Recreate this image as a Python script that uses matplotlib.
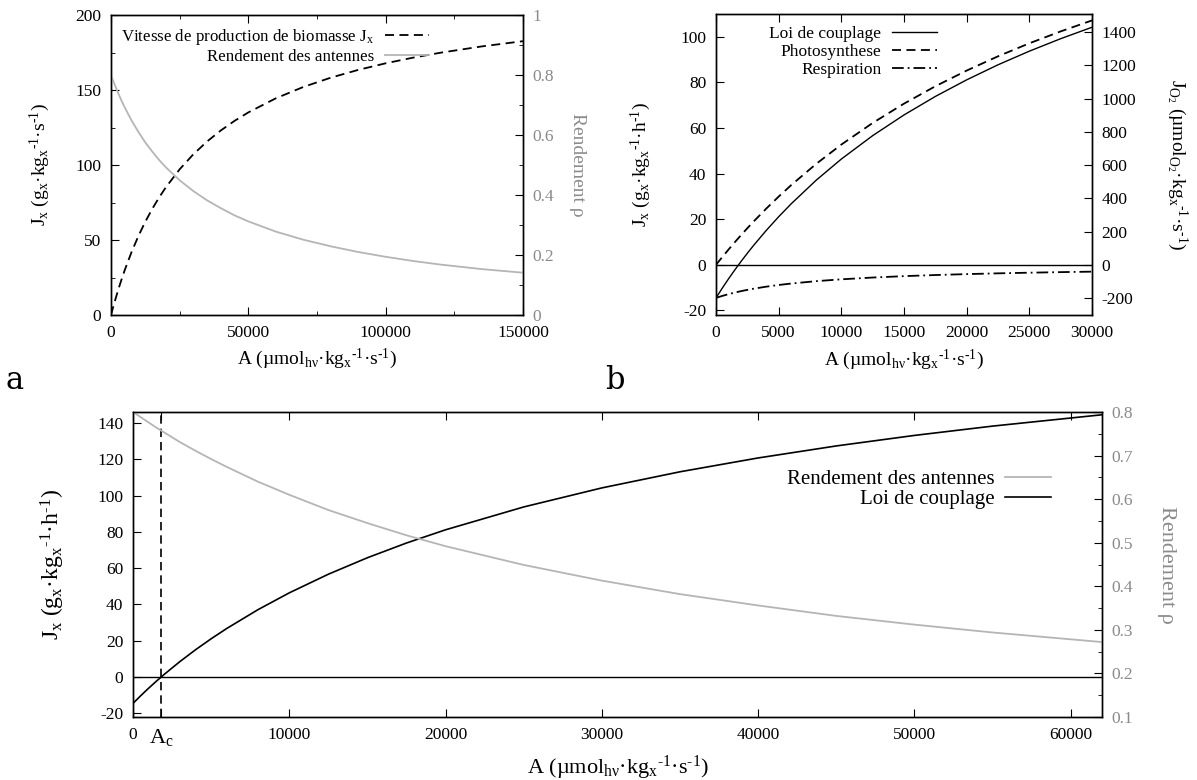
import numpy as np
import matplotlib
matplotlib.use("Agg")
import matplotlib.pyplot as plt
from matplotlib.ticker import MultipleLocator

plt.rcParams['font.family'] = ['Liberation Serif', 'DejaVu Serif']
plt.rcParams['mathtext.fontset'] = 'custom'
plt.rcParams['mathtext.rm'] = 'Liberation Serif'
plt.rcParams['mathtext.it'] = 'Liberation Serif:italic'
plt.rcParams['axes.unicode_minus'] = False
plt.rcParams['font.size'] = 12

GRAY_LINE = '#b5b5b5'
GRAY_TEXT = '#8a8a8a'

# ---- panel a : photosynthese and antenna yield up to A = 150000
A_a = [0, 1000, 2500, 4000, 5000, 7500, 10000, 12500, 15000, 17500, 20000, 25000, 30000,
       35000, 40000, 45000, 50000, 60000, 70000, 80000, 90000, 100000, 110000, 120000,
       135000, 150000]
Jx_a = [0, 6.71, 16.05, 24.61, 29.93, 42.06, 52.74, 62.22, 70.69, 78.31, 85.19, 97.15, 107.18,
        115.71, 123.06, 129.45, 135.06, 144.46, 152.01, 158.21, 163.40, 167.80, 171.58, 174.87,
        179.06, 182.55]
rho_a = [0.800, 0.776, 0.742, 0.711, 0.692, 0.648, 0.610, 0.575, 0.545, 0.517, 0.492, 0.449, 0.413,
         0.382, 0.356, 0.332, 0.312, 0.278, 0.251, 0.229, 0.210, 0.194, 0.180, 0.168,
         0.153, 0.141]

# ---- panel b : coupling law, photosynthesis, respiration up to 30000
A_b = [0, 500, 1000, 1500, 2000, 2500, 3000, 4000, 5000, 6000, 8000, 10000, 12500, 15000,
       17500, 20000, 22500, 25000, 27500, 30000]
photo_b = [0, 3.41, 6.71, 9.92, 13.03, 16.05, 18.99, 24.61, 29.93, 34.97, 44.30, 52.74, 62.22,
           70.69, 78.31, 85.19, 91.45, 97.15, 102.37, 107.18]
resp_b = [-14.50, -13.63, -12.85, -12.16, -11.54, -10.98, -10.47, -9.58, -8.84, -8.20, -7.16,
          -6.35, -5.57, -4.96, -4.47, -4.07, -3.73, -3.45, -3.20, -2.99]
coupl_b = [-14.50, -10.22, -6.14, -2.24, 1.49, 5.07, 8.52, 15.03, 21.09, 26.77, 37.14, 46.39,
           56.65, 65.73, 73.84, 81.12, 87.72, 93.70, 99.17, 104.19]

# ---- panel c : coupling law and antenna yield up to 62000
A_c_pts = [0, 500, 1000, 1500, 2000, 3000, 4000, 5000, 6000, 8000, 10000, 12500, 15000, 17500,
           20000, 25000, 30000, 35000, 40000, 45000, 50000, 55000, 62000]
coupl_c = [-14.50, -10.22, -6.14, -2.24, 1.49, 8.52, 15.03, 21.09, 26.77, 37.14, 46.39, 56.65,
           65.73, 73.84, 81.12, 93.70, 104.19, 113.07, 120.69, 127.31, 133.10, 138.23, 144.48]
rho_c = [0.800, 0.788, 0.776, 0.764, 0.753, 0.731, 0.711, 0.692, 0.674, 0.640, 0.610, 0.575,
         0.545, 0.517, 0.492, 0.449, 0.413, 0.382, 0.356, 0.332, 0.312, 0.294, 0.272]
A_c = 1800

W, H = 1197, 780
fig = plt.figure(figsize=(W / 100, H / 100), dpi=100)


def box(l, t, r, b):
    return [l / W, 1 - b / H, (r - l) / W, (b - t) / H]


def style(ax, **kw):
    ax.tick_params(which='both', direction='in', labelsize=12.5, **kw)
    ax.tick_params(which='major', length=6)
    ax.tick_params(which='minor', length=3)
    for s in ax.spines.values():
        s.set_linewidth(1.0)


M1 = '$^{\\mathrm{‐1}}$'
xlab = 'A (µmol$_{\\mathrm{hν}}$·kg$_{\\mathrm{x}}$' + M1 + '·s' + M1 + ')'
ylab_s = 'J$_{\\mathrm{x}}$ (g$_{\\mathrm{x}}$·kg$_{\\mathrm{x}}$' + M1 + '·s' + M1 + ')'
ylab_h = 'J$_{\\mathrm{x}}$ (g$_{\\mathrm{x}}$·kg$_{\\mathrm{x}}$' + M1 + '·h' + M1 + ')'
ylab_o2 = 'J$_{\\mathrm{O_2}}$ (µmol$_{\\mathrm{O_2}}$·kg$_{\\mathrm{x}}$' + M1 + '·s' + M1 + ')'

# ================= panel a
ax = fig.add_axes(box(111, 15, 523, 315))
ax2 = ax.twinx()
l1, = ax.plot(A_a, Jx_a, color='black', lw=1.3, dashes=(5, 3))
l2, = ax2.plot(A_a, rho_a, color=GRAY_LINE, lw=1.3)
ax.set_xlim(0, 150000)
ax.set_ylim(0, 200)
ax2.set_ylim(0, 1)
ax.set_xticks([0, 50000, 100000, 150000])
ax.xaxis.set_minor_locator(MultipleLocator(25000))
ax.set_yticks([0, 50, 100, 150, 200])
ax.yaxis.set_minor_locator(MultipleLocator(25))
ax2.set_yticks([0, 0.2, 0.4, 0.6, 0.8, 1.0])
ax2.set_yticklabels(['0', '0.2', '0.4', '0.6', '0.8', '1'])
ax2.yaxis.set_minor_locator(MultipleLocator(0.1))
style(ax, top=True, right=False, pad=7)
style(ax2, right=True, pad=7)
for t in ax2.get_yticklabels():
    t.set_color(GRAY_TEXT)
ax.set_xlabel(xlab, fontsize=14)
ax.xaxis.set_label_coords(0.5, -0.107)
ax.set_ylabel(ylab_s, fontsize=14)
ax.yaxis.set_label_coords(-0.143, 0.5)
ax2.set_ylabel('Rendement ρ', fontsize=14, color=GRAY_TEXT, rotation=270, va='center', ha='center')
ax2.yaxis.set_label_coords(1.133, 0.5)
ax.legend([l1, l2], ['Vitesse de production de biomasse J$_{\\mathrm{x}}$', 'Rendement des antennes'],
          loc='upper right', bbox_to_anchor=(0.80, 1.0), frameon=False, markerfirst=False,
          fontsize=12.2, handlelength=2.6, handletextpad=0.6, labelspacing=0.1, borderaxespad=0.3)

# ================= panel b
bx = fig.add_axes(box(716, 14, 1092, 315))
bx2 = bx.twinx()
bx.axhline(0, color='black', lw=1.0)
m1, = bx.plot(A_b, coupl_b, color='black', lw=1.0)
m2, = bx.plot(A_b, photo_b, color='black', lw=1.3, dashes=(5, 3))
m3, = bx.plot(A_b, resp_b, color='black', lw=1.3, dashes=(6.5, 2.2, 1, 2.2))
bx.set_xlim(0, 30000)
bx.set_ylim(-22, 110)
bx2.set_ylim(-302, 1510)
bx.set_xticks(np.arange(0, 30001, 5000))
bx.set_yticks(np.arange(-20, 101, 20))
bx2.set_yticks(np.arange(-200, 1401, 200))
style(bx, top=True, right=False, pad=7)
style(bx2, right=True, pad=7)
bx.set_xlabel(xlab, fontsize=14)
bx.xaxis.set_label_coords(0.5, -0.107)
bx.set_ylabel(ylab_h, fontsize=14)
bx.yaxis.set_label_coords(-0.168, 0.5)
bx2.set_ylabel(ylab_o2, fontsize=14, rotation=270, va='center', ha='center')
bx2.yaxis.set_label_coords(1.226, 0.5)
bx.legend([m1, m2, m3], ['Loi de couplage', 'Photosynthese', 'Respiration'],
          loc='upper right', bbox_to_anchor=(0.62, 1.0), frameon=False, markerfirst=False,
          fontsize=12.5, handlelength=2.6, handletextpad=0.6, labelspacing=0.1, borderaxespad=0.3)

# ================= panel c
cx = fig.add_axes(box(133, 412, 1102, 717))
cx2 = cx.twinx()
cx.axhline(0, color='black', lw=1.0)
cx.axvline(A_c, color='black', lw=1.2, dashes=(5, 3))
n1, = cx.plot(A_c_pts, coupl_c, color='black', lw=1.2)
n2, = cx2.plot(A_c_pts, rho_c, color=GRAY_LINE, lw=1.3)
cx.set_xlim(0, 62000)
cx.set_ylim(-22, 146)
cx2.set_ylim(0.1, 0.8)
cx.set_xticks([0, A_c, 10000, 20000, 30000, 40000, 50000, 60000])
cx.set_xticklabels(['0', 'A$_{\\mathrm{c}}$', '10000', '20000', '30000', '40000', '50000', '60000'])
cx.set_yticks(np.arange(-20, 141, 20))
cx2.set_yticks(np.arange(0.1, 0.81, 0.1))
cx2.set_yticklabels(['0.1', '0.2', '0.3', '0.4', '0.5', '0.6', '0.7', '0.8'])
cx2.yaxis.set_minor_locator(MultipleLocator(0.05))
style(cx, top=True, right=False, pad=7)
style(cx2, right=True, pad=7)
cx.get_xticklabels()[1].set_fontsize(16)
for t in cx2.get_yticklabels():
    t.set_color(GRAY_TEXT)
cx.set_xlabel(xlab, fontsize=16)
cx.xaxis.set_label_coords(0.5, -0.12)
cx.set_ylabel(ylab_h, fontsize=17)
cx.yaxis.set_label_coords(-0.068, 0.5)
cx2.set_ylabel('Rendement ρ', fontsize=16, color=GRAY_TEXT, rotation=270, va='center', ha='center')
cx2.yaxis.set_label_coords(1.067, 0.5)
cx.legend([n2, n1], ['Rendement des antennes', 'Loi de couplage'],
          loc='upper right', bbox_to_anchor=(0.962, 0.86), frameon=False, markerfirst=False,
          fontsize=15, handlelength=2.2, handletextpad=0.5, labelspacing=0.05, borderaxespad=0.3)

# panel letters
fig.text(15 / W, 1 - 380 / H, 'a', fontsize=22, ha='center', va='center', family='DejaVu Serif')
fig.text(615 / W, 1 - 380 / H, 'b', fontsize=22, ha='center', va='center', family='DejaVu Serif')
fig.text(15 / W, 1 - 790 / H, 'c', fontsize=22, ha='center', va='center', family='DejaVu Serif')

fig.savefig('out.png', dpi=100)
